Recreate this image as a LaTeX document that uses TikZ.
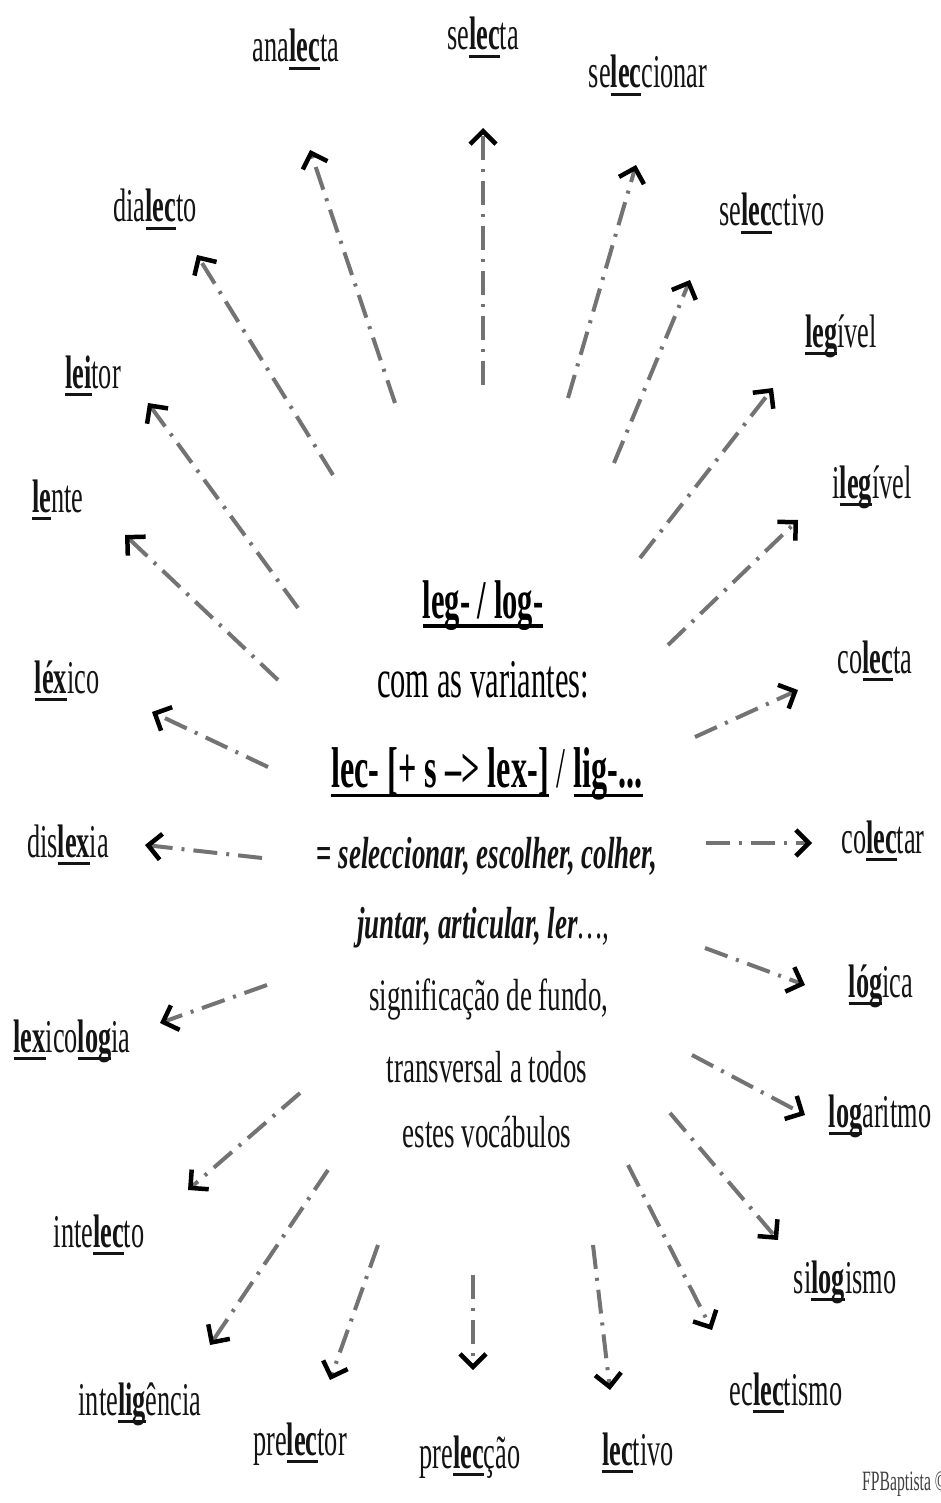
\documentclass[tikz,border=0pt]{standalone}
\usepackage{fontspec}
\setmainfont[FakeStretch=0.56]{Liberation Serif}
\newfontfamily\ctrfont[FakeStretch=0.6]{Liberation Serif}
\usetikzlibrary{arrows.meta}
\newcommand\ub[1]{\setbox0\hbox{\bfseries #1}\rlap{\rule[-0.18em]{\wd0}{0.065em}}\box0\relax}
\tikzset{
  word/.style={anchor=base, inner sep=0pt, text=black!92, font=\fontsize{47}{52}\selectfont},
  ctr/.style={anchor=base, inner sep=0pt, text=black!92, font=\ctrfont\fontsize{45}{52}\selectfont},
  big/.style={anchor=base, inner sep=0pt, text=black, font=\fontsize{54.5}{60}\selectfont},
  conn/.style={draw=black!55, line width=4pt, dash pattern=on 24pt off 9pt on 3pt off 9pt,
    -{Straight Barb[length=13pt,width=26pt,line width=4.5pt,black]}},
}
\begin{document}
\begin{tikzpicture}[x=1pt,y=-1pt]
\useasboundingbox (0,0) rectangle (940,1503);
\fill[white] (0,0) rectangle (940,1503);
% centre text
\node[big] (c1) at (483,618) {\ub{leg- / log-}};
\node[big] (c2) at (483,697) {com as variantes:};
\node[big, font=\fontsize{57.5}{62}\selectfont] (c3) at (487,787) {\ub{lec- [+ s –> lex-]} / \ub{lig-...}};
\node[ctr] (c4) at (487,868) {\textbf{=} \textbf{\textit{seleccionar, escolher, colher,}}};
\node[ctr] (c5) at (483,938) {\textbf{\textit{juntar, articular, ler}}\textit{\ldots,}};
\node[ctr] (c6) at (489,1010) {significação de fundo,};
\node[ctr] (c7) at (487,1082) {transversal a todos};
\node[ctr] (c8) at (487,1147) {estes vocábulos};
% words
\node[word] (w1) at (296,62) {ana\ub{lec}ta};
\node[word] (w2) at (483,50) {se\ub{lec}ta};
\node[word] (w3) at (648,88) {se\ub{lec}cionar};
\node[word] (w4) at (155,222) {dia\ub{lec}to};
\node[word] (w5) at (772,226) {se\ub{lec}ctivo};
\node[word] (w6) at (93,388) {\ub{lei}tor};
\node[word] (w7) at (841,347) {\ub{leg}ível};
\node[word] (w8) at (58,512) {\ub{le}nte};
\node[word] (w9) at (872,498) {i\ub{leg}ível};
\node[word] (w10) at (67,693) {\ub{léx}ico};
\node[word] (w11) at (875,673) {co\ub{lec}ta};
\node[word] (w12) at (68,857) {dis\ub{lex}ia};
\node[word] (w13) at (883,853) {co\ub{lec}tar};
\node[word] (w14) at (72,1052) {\ub{lex}ico\ub{log}ia};
\node[word] (w15) at (881,997) {\ub{lóg}ica};
\node[word] (w16) at (880,1127) {\ub{log}aritmo};
\node[word] (w17) at (99,1247) {inte\ub{lec}to};
\node[word] (w18) at (845,1293) {si\ub{log}ismo};
\node[word] (w19) at (140,1415) {inte\ub{lig}ência};
\node[word] (w20) at (786,1405) {ec\ub{lec}tismo};
\node[word] (w21) at (300,1455) {pre\ub{lec}tor};
\node[word] (w22) at (470,1468) {pre\ub{lec}ção};
\node[word] (w23) at (638,1465) {\ub{lec}tivo};
\node[anchor=base west, inner sep=0pt, text=black!75, font=\fontsize{28}{30}\selectfont] (sig) at (862,1490) {FPBaptista ©};
% connectors
\foreach \n/\sx/\sy/\ex/\ey in {
 1/395/403/310/150, 2/483/385/483/128, 3/568/398/636/165, 4/333/475/197/255,
 5/614/463/690/280, 6/298/608/148/403, 7/640/558/773/388, 8/278/680/125/535,
 9/668/645/798/520, 10/268/767/152/712, 11/695/737/798/690, 12/262/858/145/845,
 13/706/843/812/843, 14/267/985/160/1023, 15/705/948/805/985, 16/692/1055/805/1115,
 17/300/1093/188/1190, 18/670/1113/778/1240, 19/328/1170/210/1345, 20/628/1165/712/1330,
 21/378/1245/330/1380, 22/473/1275/473/1370, 23/593/1245/610/1390}{
  \coordinate (s\n) at (\sx,\sy);
  \coordinate (e\n) at (\ex,\ey);
  \draw[conn] (s\n) -- (e\n);
}
\end{tikzpicture}
\end{document}
